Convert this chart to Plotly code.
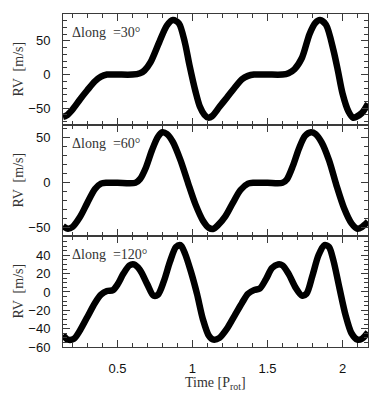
import plotly.graph_objects as go
from plotly.subplots import make_subplots

# ---- data (time in P_rot, RV in m/s) ----
t30 = [0.137, 0.16, 0.20, 0.25, 0.30, 0.35, 0.39, 0.43, 0.50, 0.60, 0.65, 0.68, 0.72, 0.78, 0.83,
       0.87, 0.91, 0.95, 0.98, 1.02, 1.05, 1.08, 1.105, 1.13, 1.18, 1.23, 1.28, 1.33, 1.37, 1.41,
       1.50, 1.60, 1.64, 1.68, 1.73, 1.78, 1.82, 1.85, 1.89, 1.94, 1.97, 2.00, 2.04, 2.07, 2.09,
       2.13, 2.17]
rv30 = [-63, -61, -52, -37, -23, -10, -3, 0, 0, 0, 2, 6, 18, 49, 73,
        81, 76, 47, 14, -25, -48, -60, -64, -62, -48, -34, -20, -7, -2, 0,
        0, 0, 2, 8, 25, 60, 77, 81, 74, 36, 5, -28, -55, -64, -63,
        -57, -43]

t60 = [0.137, 0.17, 0.20, 0.25, 0.30, 0.35, 0.39, 0.43, 0.50, 0.62, 0.65, 0.69, 0.73, 0.77, 0.80,
       0.83, 0.87, 0.92, 0.97, 1.02, 1.07, 1.11, 1.14, 1.17, 1.22, 1.27, 1.32, 1.37, 1.41, 1.50,
       1.60, 1.63, 1.67, 1.71, 1.75, 1.79, 1.82, 1.86, 1.91, 1.96, 2.01, 2.06, 2.10, 2.13, 2.17]
rv60 = [-48, -51, -49, -38, -22, -7, -1, 0, 0, 0, 4, 17, 36, 51, 56,
        54, 45, 25, 0, -24, -42, -50, -51, -47, -37, -22, -8, -1, 0, 0,
        0, 4, 19, 38, 52, 56, 54, 45, 25, -3, -28, -45, -51, -49, -43]

t120 = [0.137, 0.17, 0.21, 0.25, 0.30, 0.35, 0.39, 0.43, 0.47, 0.50, 0.54, 0.58, 0.61, 0.65, 0.70,
        0.74, 0.77, 0.81, 0.85, 0.89, 0.92, 0.95, 0.99, 1.03, 1.07, 1.11, 1.14, 1.18, 1.23, 1.28,
        1.33, 1.37, 1.41, 1.45, 1.49, 1.53, 1.57, 1.60, 1.64, 1.69, 1.73, 1.76, 1.80, 1.84, 1.88,
        1.91, 1.94, 1.98, 2.02, 2.06, 2.10, 2.13, 2.17]
rv120 = [-47, -52, -51, -42, -27, -12, -3, 1, 2, 8, 20, 29, 30, 24, 8,
         -4, -3, 12, 33, 49, 51, 42, 22, -2, -30, -48, -52, -50, -40, -26,
         -12, -2, 2, 4, 14, 26, 30, 29, 20, 4, -4, -2, 18, 40, 51,
         49, 34, 4, -25, -45, -52, -51, -44]

panel_labels = ["\u0394long  =30\u00b0", "\u0394long  =60\u00b0", "\u0394long  =120\u00b0"]
x_ticks = [0.5, 1, 1.5, 2]
x_ticktext = ["0.5", "1", "1.5", "2"]

series = [(t30, rv30), (t60, rv60), (t120, rv120)]
y_ranges = [[-75, 90], [-59, 64], [-60, 61]]
y_majors = [[-50, 0, 50], [-50, 0, 50], [-60, -40, -20, 0, 20, 40]]
y_minor = [10, 10, 5]

# the page body has an 8px default margin, so the figure is made 8px smaller
OFF = 8
W, H = 384 - OFF, 400 - OFF
ML, MR, MT, MB = 63 - OFF, 16, 14 - OFF, 53

fig = make_subplots(rows=3, cols=1, shared_xaxes=True, vertical_spacing=0)

for i, (tx, ry) in enumerate(series):
    fig.add_trace(go.Scatter(x=tx, y=ry, mode="lines",
                             line=dict(color="black", width=6.5, shape="spline", smoothing=0.8),
                             showlegend=False, hoverinfo="skip"), row=i + 1, col=1)

frame = "#3a3a3a"
sans = "Liberation Sans, Arial, sans-serif"
serif = "Liberation Serif, Times New Roman, serif"

for i in range(3):
    fig.update_xaxes(row=i + 1, col=1, range=[0.137, 2.17], showline=True, linecolor=frame,
                     linewidth=1, mirror="allticks", ticks="inside", ticklen=7, tickcolor=frame,
                     tickvals=x_ticks, ticktext=x_ticktext, showgrid=False, zeroline=False,
                     showticklabels=(i == 2), ticklabelstandoff=9,
                     tickfont=dict(family=sans, size=13, color="#111"),
                     minor=dict(dtick=0.1, tick0=0, ticks="inside", ticklen=4, tickcolor=frame,
                                showgrid=False))
    fig.update_yaxes(row=i + 1, col=1, range=y_ranges[i], showline=True, linecolor=frame,
                     linewidth=1, mirror="allticks", ticks="inside", ticklen=7, tickcolor=frame,
                     tickvals=y_majors[i], showgrid=False, zeroline=False,
                     ticklabelstandoff=9,
                     tickfont=dict(family=sans, size=13, color="#111"),
                     minor=dict(dtick=y_minor[i], tick0=0, ticks="inside", ticklen=4,
                                tickcolor=frame, showgrid=False))

pw = W - ML - MR
ph = H - MT - MB
PL, PT = ML + OFF, MT + OFF  # plot-area left/top in page pixels


def px_x(page_x):
    return (page_x - PL) / pw


def px_y(page_y):
    return 1 - (page_y - PT) / ph


annotations = []
for i in range(3):
    top_px = PT + i * ph / 3.0
    annotations.append(dict(text="RV  [m/s]", xref="paper", yref="paper",
                            x=px_x(18), y=px_y(top_px + ph / 6.0), xanchor="center",
                            yanchor="middle", textangle=-90, showarrow=False,
                            font=dict(family=serif, size=14, color="#333")))
    annotations.append(dict(text=panel_labels[i], xref="paper", yref="paper",
                            x=px_x(70), y=px_y(top_px + 18),
                            xanchor="left", yanchor="middle", showarrow=False,
                            font=dict(family=serif, size=14, color="#333")))
annotations.append(dict(text="Time [P<sub>rot</sub>]", xref="paper", yref="paper",
                        x=0.5, y=px_y(383), xanchor="center", yanchor="middle",
                        showarrow=False, font=dict(family=serif, size=14, color="#333")))

fig.update_layout(width=W, height=H, margin=dict(l=ML, r=MR, t=MT, b=MB),
                  plot_bgcolor="white", paper_bgcolor="white", annotations=annotations)

fig.write_html("out.html")
